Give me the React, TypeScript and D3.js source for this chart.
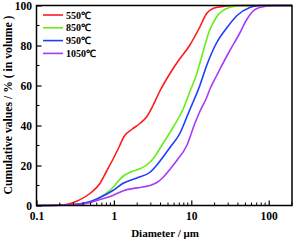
import { axisBottom, axisLeft, curveMonotoneX, line, scaleLinear, scaleLog, select } from "d3";
import { useEffect, useRef } from "react";

// particle size distributions
const seriesNames = ["550℃", "850℃", "950℃", "1050℃"];
const seriesColors = ["#ff1a1a", "#66ee1a", "#1f3cff", "#a63cf5"];

const d550 = [0.1, 0.2, 0.25, 0.3, 0.36, 0.49, 0.66, 0.8, 0.97, 1.19, 1.35, 1.7, 2.16, 2.67, 3.2, 3.9, 5.3, 6.7, 9.5, 12.8, 15.8, 21, 38, 200];
const v550 = [0, 0.2, 0.6, 1.5, 2.8, 6, 11, 17, 23, 30, 34.5, 38, 41, 44.5, 50, 57, 66, 72, 80, 89, 96, 99, 100, 100];

const d850 = [0.1, 0.2, 0.3, 0.5, 0.66, 0.97, 1.3, 1.6, 2.2, 2.9, 3.3, 4.3, 5.8, 7.8, 9.6, 11.8, 14, 17, 21, 31, 46, 200];
const v850 = [0, 0.1, 0.5, 2, 4, 9, 14.5, 16.5, 18.5, 21.5, 24, 31, 39, 48, 57, 66, 76, 87, 94, 99, 100, 100];

const d950 = [0.1, 0.2, 0.3, 0.5, 0.66, 0.97, 1.3, 1.98, 2.9, 3.9, 5.3, 7.1, 8.7, 9.6, 12.9, 15.8, 21, 29, 39, 57, 76, 200];
const v950 = [0, 0.1, 0.5, 2, 4, 7.5, 11, 13.8, 16.5, 22, 29, 36, 44, 48, 60, 70, 81, 89, 95, 99, 100, 100];

const d1050 = [0.1, 0.2, 0.3, 0.5, 0.66, 0.97, 1.3, 1.98, 2.9, 3.6, 4.3, 5.8, 6.5, 8.75, 11.1, 12.9, 15.8, 17.3, 21.3, 23.3, 31, 42, 52, 62, 76, 120, 200];
const v1050 = [0, 0.1, 0.3, 1.5, 3, 5, 7.3, 8.8, 10, 11.5, 14, 20, 22.5, 30, 41, 47, 54, 58, 65, 68, 77, 86, 93, 97, 99, 100, 100];

const diameters = [d550, d850, d950, d1050];
const values = [v550, v850, v950, v1050];

const xTickValues = [0.1, 1, 10, 100];
const yTickValues = [0, 20, 40, 60, 80, 100];
const yMinorValues = [10, 30, 50, 70, 90];

const width = 295;
const height = 243;
const left = 36.5;
const right = 292;
const top = 5.5;
const bottom = 205.5;
const font = "'Liberation Serif', 'Times New Roman', serif";

function App() {
  const xAxisRef = useRef<SVGGElement | null>(null);
  const yAxisRef = useRef<SVGGElement | null>(null);

  const x = scaleLog().domain([0.1, 200]).range([left, right]);
  const y = scaleLinear().domain([0, 100]).range([bottom, top]);

  const minorX: number[] = [];
  for (const decade of [0.1, 1, 10, 100]) {
    for (let k = 2; k <= 9; k++) {
      const v = decade * k;
      if (v <= 200) minorX.push(v);
    }
  }

  useEffect(() => {
    document.body.style.margin = "0";
    if (xAxisRef.current) {
      const sel = select(xAxisRef.current);
      sel.selectAll("*").remove();
      sel.call(
        axisBottom(x)
          .tickValues(xTickValues)
          .tickSize(-5)
          .tickPadding(6)
          .tickFormat((d) => String(d)) as any
      );
      sel.select(".domain").remove();
      sel.selectAll("line").attr("stroke", "#000").attr("stroke-width", 1.2);
      sel
        .selectAll("text")
        .attr("font-family", font)
        .attr("font-weight", "bold")
        .attr("font-size", 11.5)
        .attr("fill", "#000");
      sel
        .selectAll(".minor")
        .data(minorX)
        .enter()
        .append("line")
        .attr("class", "minor")
        .attr("x1", (d) => x(d))
        .attr("x2", (d) => x(d))
        .attr("y1", 0)
        .attr("y2", -3)
        .attr("stroke", "#000")
        .attr("stroke-width", 1);
    }
    if (yAxisRef.current) {
      const sel = select(yAxisRef.current);
      sel.selectAll("*").remove();
      sel.call(axisLeft(y).tickValues(yTickValues).tickSize(-5).tickPadding(4.5) as any);
      sel.select(".domain").remove();
      sel.selectAll("line").attr("stroke", "#000").attr("stroke-width", 1.2);
      sel
        .selectAll("text")
        .attr("font-family", font)
        .attr("font-weight", "bold")
        .attr("font-size", 11.5)
        .attr("fill", "#000");
      sel
        .selectAll(".minor")
        .data(yMinorValues)
        .enter()
        .append("line")
        .attr("class", "minor")
        .attr("x1", 0)
        .attr("x2", 3)
        .attr("y1", (d) => y(d))
        .attr("y2", (d) => y(d))
        .attr("stroke", "#000")
        .attr("stroke-width", 1);
    }
  }, []);

  const builder = line<[number, number]>()
    .x((d) => x(d[0]))
    .y((d) => y(d[1]))
    .curve(curveMonotoneX);

  return (
    <svg
      width={width}
      height={height}
      style={{ position: "absolute", left: 0, top: 0, background: "#fff" }}
    >
      <rect x={0} y={0} width={width} height={height} fill="#fff" />
      {values.map((vals, i) => (
        <path
          key={seriesNames[i]}
          d={builder(vals.map((v, j) => [diameters[i][j], v] as [number, number])) ?? ""}
          fill="none"
          stroke={seriesColors[i]}
          strokeWidth={1.6}
        />
      ))}
      <g ref={xAxisRef} transform={`translate(0, ${bottom})`} />
      <g ref={yAxisRef} transform={`translate(${left}, 0)`} />
      <rect
        x={left}
        y={top}
        width={right - left}
        height={bottom - top}
        fill="none"
        stroke="#000"
        strokeWidth={1.5}
      />
      {seriesNames.map((name, i) => (
        <g key={name} transform={`translate(43, ${15 + i * 12.8})`}>
          <line x1={0} x2={20} y1={0} y2={0} stroke={seriesColors[i]} strokeWidth={1.6} />
          <text
            x={23}
            y={0}
            dominantBaseline="central"
            fontFamily={font}
            fontWeight="bold"
            fontSize={10}
          >
            {name}
          </text>
        </g>
      ))}
      <text
        x={165}
        y={237}
        textAnchor="middle"
        fontFamily={font}
        fontWeight="bold"
        fontSize={11}
      >
        Diameter / μm
      </text>
      <text
        transform={`translate(8.5, 105) rotate(-90)`}
        textAnchor="middle"
        dominantBaseline="central"
        fontFamily={font}
        fontWeight="bold"
        fontSize={11.7}
      >
        Cumulative values / % ( in volume )
      </text>
    </svg>
  );
}

export default App;
